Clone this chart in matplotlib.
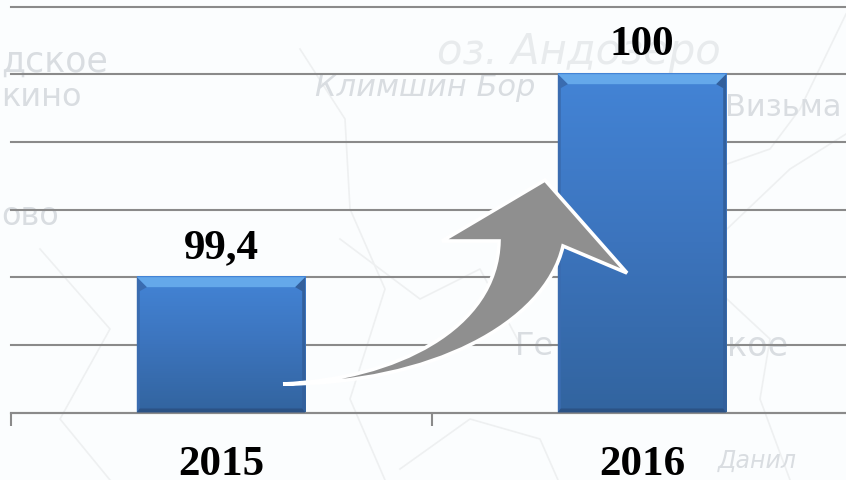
import numpy as np
import matplotlib
matplotlib.use('Agg')
import matplotlib.pyplot as plt
from matplotlib.colors import LinearSegmentedColormap
from matplotlib.path import Path
from matplotlib.patches import PathPatch, Polygon

# chart data
years = ['2015', '2016']
values = [99.4, 100.0]
value_labels = ['99,4', '100']

W, H = 846, 481
GRID = '#8a8a8a'

plt.rcParams['font.family'] = ['Liberation Serif', 'DejaVu Serif']
fig = plt.figure(figsize=(W / 100, H / 100), dpi=100, facecolor='#fbfdfe')

# faint map behind the chart, pixel coordinates
bg = fig.add_axes([0, 0, 1, 1], zorder=0)
bg.set_xlim(0, W); bg.set_ylim(H, 0); bg.axis('off')
map_col = '#d9dde1'
sans = ['DejaVu Sans']
bg.text(1, 62, 'дское', fontsize=25, color=map_col, family=sans, va='center')
bg.text(1, 97, 'кино', fontsize=23, color=map_col, family=sans, va='center')
bg.text(1, 217, 'ово', fontsize=23, color=map_col, family=sans, va='center')
bg.text(437, 52, 'оз. Андозеро', fontsize=30, color='#e8ebed', family=sans, style='italic', va='center')
bg.text(315, 88, 'Климшин Бор', fontsize=22, color=map_col, family=sans, style='italic', va='center')
bg.text(725, 108, 'Визьма', fontsize=22, color=map_col, family=sans, va='center')
bg.text(515, 347, 'Ге', fontsize=23, color=map_col, family=sans, va='center')
bg.text(727, 347, 'кое', fontsize=24, color=map_col, family=sans, va='center')
bg.text(718, 461, 'Данил', fontsize=17, color=map_col, family=sans, style='italic', va='center')
roads = [
    [(300, 50), (345, 120), (350, 210), (385, 290), (350, 400), (385, 481)],
    [(40, 250), (110, 330), (60, 420), (110, 481)],
    [(340, 240), (420, 300), (480, 270), (520, 345)],
    [(727, 165), (770, 150), (800, 110), (846, 15)],
    [(727, 230), (790, 170), (846, 135)],
    [(400, 470), (470, 420), (540, 440), (558, 481)],
    [(727, 300), (770, 340), (760, 400), (790, 481)],
]
for r in roads:
    r = np.array(r)
    bg.plot(r[:, 0], r[:, 1], color='#eef0f1', lw=1.2)

# chart, the right part of the axis runs off the figure
ax = fig.add_axes([10.5 / W, 1 - 413.5 / H, 842 / W, 406 / H], zorder=1)
ax.patch.set_alpha(0)
x = np.arange(len(years))
bar_w = 0.4
bars = ax.bar(x, values, bar_w, color='none', zorder=3)
ax.set_xlim(-0.5, 1.5)
ax.set_ylim(99.0, 100.2)
ax.set_yticks([99.0, 99.2, 99.4, 99.6, 99.8, 100.0, 100.2])
ax.grid(axis='y', color=GRID, lw=1.5, zorder=1, clip_on=False)
ax.set_axisbelow(True)
for s in ['top', 'right', 'left']:
    ax.spines[s].set_visible(False)
ax.spines['bottom'].set_color(GRID)
ax.spines['bottom'].set_linewidth(1.5)
ax.tick_params(axis='y', left=False, labelleft=False)
ax.set_xticks([-0.5, 0.5], labels=[])
ax.tick_params(axis='x', length=9.5, width=1.5, color=GRID)
ax.set_xticks(x, labels=years, minor=True)
ax.tick_params(axis='x', which='minor', length=0, pad=23.5, labelsize=31)
for t in ax.get_xticklabels(minor=True):
    t.set_fontweight('bold')

# bevelled gradient on the bars
grad = LinearSegmentedColormap.from_list('bar', ['#4384d6', '#3c74bd', '#32649f'])
dx = 1 / 421  # one pixel in data units
dy = 1.2 / 406
for b, v, lab in zip(bars, values, value_labels):
    x0, x1 = b.get_x(), b.get_x() + b.get_width()
    y0, y1 = 99.0, v
    ax.imshow(np.linspace(0, 1, 128).reshape(-1, 1), cmap=grad, aspect='auto',
              extent=(x0, x1, y0, y1), origin='upper', zorder=3)
    ex, ey = 10 * dx, 10 * dy
    sx, by = 3 * dx, 4 * dy
    ax.add_patch(Polygon([(x0, y1), (x1, y1), (x1 - ex, y1 - ey), (x0 + ex, y1 - ey)],
                         color='#64a8ea', lw=0, zorder=4))
    ax.add_patch(Polygon([(x0, y1), (x0 + ex, y1 - ey), (x0 + sx, y1 - 14 * dy), (x0 + sx, y0 + by), (x0, y0)],
                         color='#3a6cb0', lw=0, zorder=4))
    ax.add_patch(Polygon([(x1, y1), (x1 - ex, y1 - ey), (x1 - sx, y1 - 14 * dy), (x1 - sx, y0 + by), (x1, y0)],
                         color='#33609c', lw=0, zorder=4))
    ax.add_patch(Polygon([(x0, y0), (x1, y0), (x1 - sx, y0 + by), (x0 + sx, y0 + by)],
                         color='#2b5285', lw=0, zorder=4))
    ax.text(b.get_x() + b.get_width() / 2, v + 20 * dy, lab, ha='center', va='baseline',
            fontsize=31, fontweight='bold', color='black', zorder=5)
ax.set_xlim(-0.5, 1.5)
ax.set_ylim(99.0, 100.2)

# curved arrow on top, pixel coordinates
top = fig.add_axes([0, 0, 1, 1], zorder=2)
top.set_xlim(0, W); top.set_ylim(H, 0); top.axis('off')
verts = [
    (283, 385),
    (430, 385), (545, 325), (563, 247),
    (627, 274),
    (545, 181),
    (442, 242),
    (499, 242),
    (497, 330), (395, 380), (283, 385),
]
codes = [Path.MOVETO, Path.CURVE4, Path.CURVE4, Path.CURVE4, Path.LINETO, Path.LINETO,
         Path.LINETO, Path.LINETO, Path.CURVE4, Path.CURVE4, Path.CURVE4]
top.add_patch(PathPatch(Path(verts, codes), facecolor='#8f8f8f', edgecolor='white', lw=2.6, joinstyle='miter'))

fig.savefig('out.png', dpi=100, facecolor=fig.get_facecolor())
